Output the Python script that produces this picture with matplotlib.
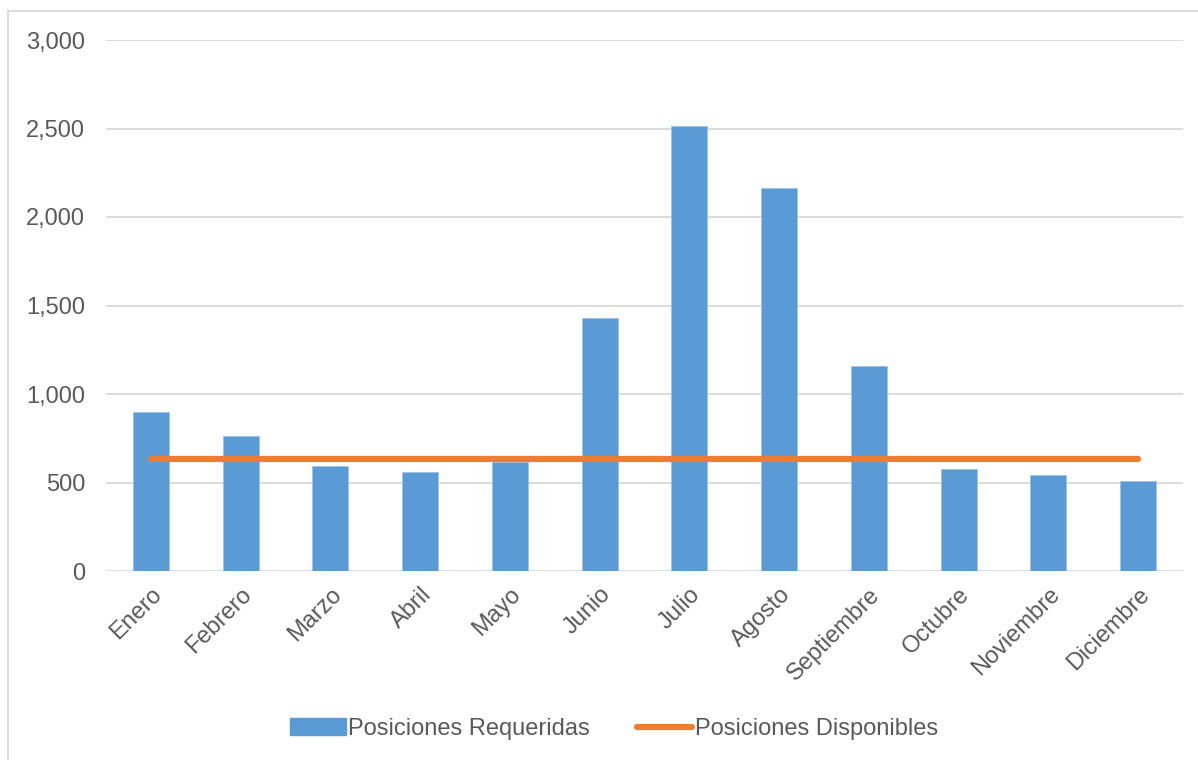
import numpy as np
import matplotlib.pyplot as plt
from matplotlib.lines import Line2D
from matplotlib.ticker import FuncFormatter

plt.rcParams['font.family'] = ['Liberation Sans', 'DejaVu Sans']

meses = ['Enero', 'Febrero', 'Marzo', 'Abril', 'Mayo', 'Junio', 'Julio',
         'Agosto', 'Septiembre', 'Octubre', 'Noviembre', 'Diciembre']
requeridas = [898, 763, 591, 562, 615, 1428, 2513, 2162, 1156, 576, 544, 506]
disponibles = [630] * 12

gris = '#595959'

fig = plt.figure(figsize=(11.98, 7.6), dpi=100)
ax = fig.add_axes([106 / 1198, 1 - 571 / 760, 1077 / 1198, 531 / 760])

x = np.arange(len(meses))
ax.bar(x, requeridas, width=0.4, color='#5b9bd5', edgecolor='#9dc3e6',
       linewidth=0.6, label='Posiciones Requeridas', zorder=2)
ax.plot(x, disponibles, color='#ed7d31', linewidth=4.5, solid_capstyle='round',
        label='Posiciones Disponibles', zorder=3)

ax.set_xlim(-0.5, len(meses) - 0.5)
ax.set_ylim(0, 3000)
ax.set_yticks(np.arange(0, 3001, 500))
ax.yaxis.set_major_formatter(FuncFormatter(lambda v, p: f'{int(v):,}'))
ax.grid(axis='y', color='#d9d9d9', linewidth=1.3, zorder=0)
for s in ax.spines.values():
    s.set_visible(False)
ax.tick_params(length=0, labelsize=17, labelcolor=gris)
ax.tick_params(axis='y', pad=15)
ax.set_xticks(x)
ax.set_xticklabels(meses, rotation=45, ha='right', rotation_mode='anchor')
ax.tick_params(axis='x', pad=9)

handles = [plt.Rectangle((0, 0), 1, 1, color='#5b9bd5'),
           Line2D([], [], color='#ed7d31', linewidth=4.5, solid_capstyle='round')]
fig.legend(handles, ['Posiciones Requeridas', 'Posiciones Disponibles'],
           loc='center', bbox_to_anchor=(614 / 1198, 1 - 729 / 760), ncol=2,
           frameon=False, fontsize=17, labelcolor=gris, handlelength=2.35,
           handletextpad=0.1, columnspacing=2.0)

# chart frame (top and left edges)
fig.add_artist(Line2D([8 / 1198, 1], [1 - 11 / 760, 1 - 11 / 760],
                      color='#d9d9d9', linewidth=1.3))
fig.add_artist(Line2D([8 / 1198, 8 / 1198], [0, 1 - 11 / 760],
                      color='#d9d9d9', linewidth=1.3))

fig.savefig('out.png', dpi=100)
